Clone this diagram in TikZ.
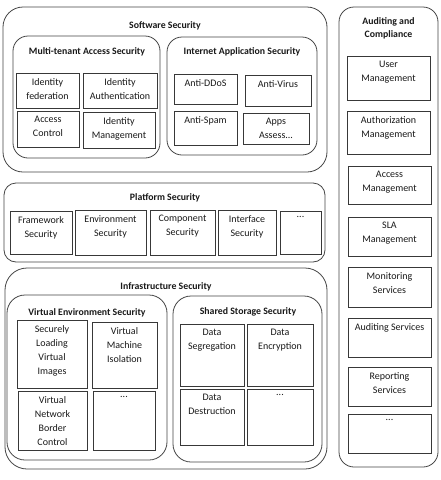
\documentclass[tikz,border=0pt]{standalone}
\usepackage{fontspec}
\setmainfont{Carlito}
\usetikzlibrary{fit}
\definecolor{linec}{RGB}{70,70,70}
\definecolor{textc}{RGB}{25,25,25}
\tikzset{
  group/.style={draw=linec, line width=0.8pt, inner sep=0pt},
  cell/.style={draw=linec!80!black, line width=0.8pt, inner sep=0pt},
  celltxt/.style={anchor=north, inner sep=2pt, yshift=-3.5pt, align=center, text=textc,
    font=\fontsize{10}{14}\selectfont},
  title/.style={inner sep=1pt, align=center, text=textc, font=\fontsize{9.8}{13}\selectfont\bfseries}
}
\newcommand{\cbox}[6]{%
  \node[cell, fit={(#2,#3) (#4,#5)}] (#1) {};
  \node[celltxt] (#1-t) at (#1.north) {#6};}
\begin{document}
\begin{tikzpicture}[x=1pt,y=-1pt]
\useasboundingbox[fill=white] (0,0) rectangle (441,480);
% Software Security
\node[group, rounded corners=20pt, fit={(3,7) (327,172)}] (sw) {};
\node[title] (sw-t) at (165,26) {Software Security};
\node[group, rounded corners=15pt, fit={(13,36) (160,158)}] (mt) {};
\node[title] (mt-t) at (87,52) {Multi-tenant Access Security};
\cbox{idf}{16}{73}{79}{108}{Identity\\federation}
\cbox{ida}{83}{73}{157}{108}{Identity\\Authentication}
\cbox{ac}{17}{111}{79}{147}{Access\\Control}
\cbox{idm}{83}{112}{155}{148}{Identity\\Management}
\node[group, rounded corners=15pt, fit={(167,37) (317,155)}] (ias) {};
\node[title] (ias-t) at (242,52) {Internet Application Security};
\cbox{ddos}{174}{74}{237}{104}{Anti-DDoS}
\cbox{virus}{245}{75}{311}{106}{Anti-Virus}
\cbox{spam}{174}{111}{237}{145}{Anti-Spam}
\cbox{apps}{243}{113}{309}{144}{Apps\\Assess...}
% Platform Security
\node[group, rounded corners=12pt, fit={(4,183) (325,262)}] (ps) {};
\node[title] (ps-t) at (165,198) {Platform Security};
\cbox{fw}{10}{211}{72}{254}{Framework\\Security}
\cbox{env}{75}{210}{146}{255}{Environment\\Security}
\cbox{comp}{150}{210}{215}{255}{Component\\Security}
\cbox{intf}{218}{210}{276}{255}{Interface\\Security}
\cbox{pdots}{280}{211}{321}{254}{...}
% Infrastructure Security
\node[group, rounded corners=22pt, fit={(5,268) (327,469)}] (is) {};
\node[title] (is-t) at (166,287) {Infrastructure Security};
\node[group, rounded corners=18pt, fit={(7,295) (167,460)}] (ves) {};
\node[title] (ves-t) at (87,313) {Virtual Environment Security};
\cbox{sl}{17}{320}{87}{388}{Securely\\Loading\\Virtual\\Images}
\cbox{vm}{92}{322}{157}{388}{Virtual\\Machine\\Isolation}
\cbox{vn}{18}{391}{87}{450}{Virtual\\Network\\Border\\Control}
\cbox{vdots}{93}{391}{155}{450}{...}
\node[group, rounded corners=18pt, fit={(173,296) (322,462)}] (sss) {};
\node[title] (sss-t) at (248,312) {Shared Storage Security};
\cbox{ds}{180}{324}{244}{386}{Data\\Segregation}
\cbox{de}{247}{324}{313}{386}{Data\\Encryption}
\cbox{dd}{180}{389}{244}{445}{Data\\Destruction}
\cbox{sdots}{247}{389}{313}{445}{...}
% Auditing and Compliance
\node[group, rounded corners=15pt, fit={(339,7) (438,467)}] (ac) {};
\node[title] (ac-t) at (388.5,28) {Auditing and\\Compliance};
\cbox{um}{347}{56}{430}{100}{User\\Management}
\cbox{aum}{347}{111}{430}{154}{Authorization\\Management}
\cbox{acm}{348}{166}{431}{204}{Access\\Management}
\cbox{sla}{348}{217}{431}{256}{SLA\\Management}
\cbox{mon}{348}{267}{431}{307}{Monitoring\\Services}
\cbox{auds}{348}{318}{431}{357}{Auditing Services}
\cbox{rep}{348}{367}{431}{406}{Reporting\\Services}
\cbox{adots}{348}{414}{431}{453}{...}
\end{tikzpicture}
\end{document}
